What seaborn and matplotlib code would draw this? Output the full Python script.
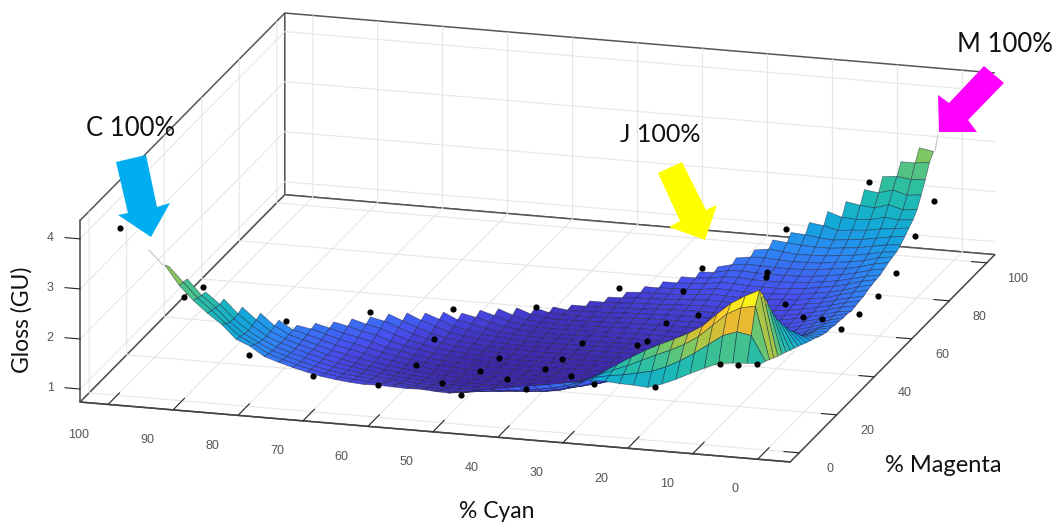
import numpy as np
import matplotlib
matplotlib.use("Agg")
import matplotlib.pyplot as plt
from matplotlib.colors import Normalize
from matplotlib.patches import Polygon
from mpl_toolkits.mplot3d.art3d import Poly3DCollection
import seaborn as sns

# grid of the fitted surface, in % ink
cyan_levels = 2.32 + 2.186 * np.arange(43)
magenta_levels = 5.16 + 2.186 * np.arange(43)

# fitted gloss x100, one list per cyan level, running up in magenta
gloss_columns = [
    [225,221,216,211,206,202,198,193,189,185,180,175,171,167,162,158,155,155,152,152,150,150,147,149,151,152,156,158,160,161,165,169,172,174,180,188,197,205,217,238,260,286,300],
    [223,270,320,344,324,301,277,255,239,223,208,196,184,171,163,157,152,149,146,144,143,143,143,144,145,146,149,151,154,156,160,164,168,171,177,185,193,202,214,235,258,283,305],
    [221,275,315,330,300,270,240,215,195,180,168,158,150,145,141,139,137,136,135,135,135,135,135,136,137,139,141,143,146,149,152,156,160,165,172,180,190,205,222,243,262,283],
    [218,265,300,313,280,250,222,198,178,163,152,144,138,134,131,129,128,127,127,127,127,127,128,129,130,131,133,136,139,142,146,150,155,160,167,175,185,198,213,235,259],
    [206,245,275,289,255,228,203,182,165,152,142,135,130,126,124,122,121,120,120,120,120,121,122,123,125,127,129,132,135,138,142,147,152,157,164,172,183,196,216,239],
    [193,225,250,263,235,210,188,170,155,143,134,128,124,120,118,116,115,114,114,114,115,116,117,118,120,122,124,127,130,134,138,143,148,154,161,169,180,198,221],
    [179,208,232,246,220,197,177,160,146,135,127,122,118,115,113,111,110,110,110,110,111,112,113,115,117,119,122,125,128,132,136,141,147,153,161,171,187,207],
    [167,193,218,232,207,185,166,150,137,127,120,115,112,110,108,107,106,106,106,107,108,109,111,113,115,117,120,123,126,130,135,140,146,152,162,175,191],
    [158,182,206,219,194,173,155,140,129,120,114,110,107,105,104,103,103,103,104,105,106,108,110,112,114,116,119,122,126,130,135,140,147,155,165,177],
    [160,176,193,205,180,160,143,130,120,113,108,105,103,102,101,101,101,102,103,104,105,107,109,111,113,116,119,122,126,130,135,141,149,158,168],
    [161,170,180,189,165,147,132,121,113,107,103,101,100,99,99,99,100,101,102,103,105,107,109,111,114,117,120,124,128,132,137,142,148,154],
    [163,166,169,172,150,135,122,113,107,102,100,98,97,97,97,98,99,100,101,103,105,107,109,112,115,118,121,124,128,131,135,139,144],
    [163,160,157,154,135,123,113,106,101,98,96,95,95,95,96,97,98,100,101,103,105,107,109,111,113,116,118,120,123,126,129,132],
    [157,150,144,139,122,112,105,100,97,95,94,94,94,95,96,97,98,100,101,103,105,107,108,110,112,114,116,118,121,124,128],
    [152,139,128,120,112,105,100,96,94,93,93,93,94,95,96,97,98,100,101,103,104,106,107,109,110,112,114,117,120,124],
    [147,132,120,111,105,100,96,94,92,92,92,93,94,95,96,97,98,99,101,102,103,105,106,107,109,111,113,116,120],
    [142,127,115,106,100,96,93,92,91,91,92,93,94,95,96,97,98,99,100,101,102,103,105,106,108,110,113,116],
    [138,123,112,104,98,94,92,91,90,91,91,92,93,94,95,96,97,98,99,100,101,102,103,105,106,108,111],
    [133,120,110,102,97,93,91,90,90,90,91,92,93,94,95,95,96,97,98,99,100,101,102,103,105,107],
    [128,117,107,100,95,92,90,90,90,90,91,92,93,93,94,95,96,96,97,98,99,100,101,103,105],
    [123,113,105,99,95,92,90,90,90,90,91,92,92,93,94,95,95,96,97,98,99,100,101,103],
    [117,109,102,97,94,91,90,90,90,91,91,92,93,94,94,95,96,97,98,99,100,102,105],
    [113,106,100,96,93,91,90,90,91,91,92,93,94,95,96,97,98,99,100,102,105,109],
    [114,107,101,97,94,92,91,91,92,92,93,94,95,96,97,99,100,102,105,109,115],
    [116,109,103,99,96,94,93,93,93,94,95,96,97,99,100,102,105,109,114,119],
    [115,109,104,100,97,95,94,94,95,96,97,98,100,102,104,107,111,116,122],
    [116,111,106,102,99,97,97,97,98,99,100,102,104,106,109,112,117,122],
    [117,112,108,104,102,100,100,100,101,103,105,107,110,113,118,124,130],
    [116,113,110,107,105,104,104,105,106,108,110,113,117,122,128,134],
    [118,115,113,111,109,108,108,109,111,113,117,122,127,133,140],
    [121,118,116,114,113,112,113,115,118,122,127,132,138,144],
    [125,122,120,119,118,118,119,121,124,128,132,138,144],
    [131,128,126,125,124,124,125,127,130,134,140,146],
    [138,135,133,132,132,132,133,135,138,142,146],
    [146,143,141,140,140,140,141,143,146,149],
    [155,152,150,149,149,149,149,150,151],
    [173,168,164,161,160,161,164,167],
    [185,182,179,177,178,182,187],
    [212,205,200,198,200,205],
    [232,229,226,225,227],
    [255,252,249,247],
    [283,281,279],
    [321,310],
]

# extra colour on the yellow ridge near J, rows are the first magenta levels
ridge_colour = [
    [0,0,0,.05,.1,.15,.2,.25,.3,.35,.35,.3,.2,0],
    [0,.25,.35,.4,.45,.45,.45,.5,.5,.5,.5,.4,.3,.1],
    [0,.8,.9,.9,.9,.85,.8,.75,.7,.65,.65,.55,.4,.2],
    [0,.85,.9,.95,.95,.95,.85,.7,.65,.65,.7,.75,.6,.3],
    [0,.7,.6,.5,.4,.3,.2,.1,0,0,0,0,0,0],
]

# measured samples
cyan_pts = [99.7,89.9,90.1,79.9,80.5,70,69.1,60,59.5,46.7,37.1,59.3,58.9,47.7,49,52.4,47.2,42.3,37.2,39,38,38.1,32.4,26.7,27.4,26.5,26.7,17.4,28.1,27.2,21.7,19,17.6,10,5.6,4.3,-3.4,-3,-2.8,-2.4,-2.2,-1.9,12.8,19.3,7.4,4.6,1.7]
magenta_pts = [.5,.5,11.4,.5,22.3,.5,27.8,.5,38.7,38.7,49.7,27.8,16.9,22.3,16.9,8.1,.5,8.1,.5,16.9,22.3,33.3,8.1,.5,25.6,27.8,38.7,.5,62.8,49.7,38.7,66,60.6,44.2,38.7,44.2,27.8,38.7,49.7,60.6,71.5,82.4,98.8,77,.5,.5,.5]
gloss_pts = [4.06,2.79,2.58,1.74,1.6,1.43,1.69,1.36,1.44,1.62,1.69,1.25,1.15,1.22,1.14,1.19,1.3,1.38,1.53,1.29,1.29,1.2,1.55,1.74,1.56,1.57,1.52,1.79,1.69,1.74,1.73,1.58,1.71,1.88,1.87,1.64,2.14,2.02,1.96,2,2.33,2.61,2.21,2.03,2.36,2.37,2.42]

cyan_ticks = list(range(0, 101, 10))
magenta_ticks = list(range(0, 101, 20))
gloss_ticks = [1, 2, 3, 4]

parula = ["#3e26a8", "#4750f0", "#2d87f5", "#12a8dc", "#1ab8b8", "#33c09a",
          "#73c76a", "#b8c640", "#ecba30", "#fdcf2c", "#f9f815"]
surface_cmap = sns.blend_palette(parula, n_colors=256, as_cmap=True)

sns.set_theme(style="white")
plt.rcParams["font.family"] = ["Liberation Sans", "DejaVu Sans"]
plt.rcParams["grid.color"] = "#e6e6e6"
plt.rcParams["grid.linewidth"] = 0.8

W, H = 1058, 522
fig = plt.figure(figsize=(W / 100, H / 100), dpi=100, facecolor="white")
side = 1058
ax = fig.add_axes([-5.8 / W, -258.8 / H, side / W, side / H], projection="3d",
                  proj_type="ortho", computed_zorder=False)
ax.patch.set_alpha(0)
ax.view_init(elev=17, azim=-73.9)
ax.set_box_aspect((739, 738, 190), zoom=0.974)

# put the table on the grid
gloss = np.full((len(magenta_levels), len(cyan_levels)), np.nan)
for i, col in enumerate(gloss_columns):
    gloss[:len(col), i] = np.array(col) / 100
colour_val = gloss.copy()
colour_val[:len(ridge_colour), :len(ridge_colour[0])] += np.array(ridge_colour)

quads = []
face_vals = []
for j in range(len(magenta_levels) - 1):
    for i in range(len(cyan_levels) - 1):
        z = [gloss[j, i], gloss[j, i + 1], gloss[j + 1, i + 1], gloss[j + 1, i]]
        if np.isnan(z).any():
            continue
        quads.append([(cyan_levels[i], magenta_levels[j], z[0]),
                      (cyan_levels[i + 1], magenta_levels[j], z[1]),
                      (cyan_levels[i + 1], magenta_levels[j + 1], z[2]),
                      (cyan_levels[i], magenta_levels[j + 1], z[3])])
        face_vals.append(np.mean([colour_val[j, i], colour_val[j, i + 1],
                                  colour_val[j + 1, i + 1], colour_val[j + 1, i]]))

surf = Poly3DCollection(quads, cmap=surface_cmap, norm=Normalize(0.9, 4.2),
                        edgecolor=(0.1, 0.1, 0.2, 0.55), linewidth=0.5, zorder=2)
surf.set_array(np.array(face_vals))
ax.add_collection3d(surf)
ax.scatter(cyan_pts, magenta_pts, gloss_pts, c="black", s=20, depthshade=False,
           linewidths=0, zorder=5)

ax.set_xlim(104.3, -5, view_margin=0)
ax.set_ylim(-4.8, 104.3, view_margin=0)
ax.set_zlim(0.74, 4.37, view_margin=0)
ax.set_xticks(cyan_ticks)
ax.set_yticks(magenta_ticks)
ax.set_zticks(gloss_ticks)
ax.zaxis.set_ticks_position("lower")
# z ticks run along the cyan direction in the reference
ax.zaxis._get_tickdir = lambda position: 0

for axis, out in [(ax.xaxis, 0.7), (ax.yaxis, 0.27), (ax.zaxis, 0.27)]:
    axis.set_pane_color((1, 1, 1, 1))
    axis.pane.set_edgecolor("#555555")
    axis.pane.set_linewidth(1.1)
    axis.line.set_color("#444444")
    axis.line.set_linewidth(1.1)
    axis._axinfo["tick"]["outward_factor"] = out
    axis._axinfo["tick"]["inward_factor"] = 0
    axis._axinfo["tick"]["linewidth"] = {True: 0.8, False: 0.5}
    axis._axinfo["tick"]["color"] = "#444444"
ax.tick_params(axis="x", labelsize=9, labelcolor="#555555", pad=29)
ax.tick_params(axis="y", labelsize=9, labelcolor="#555555", pad=9)
ax.tick_params(axis="z", labelsize=9, labelcolor="#555555", pad=5)
plt.setp(ax.get_xticklabels(), ha="right", va="bottom")
plt.setp(ax.get_zticklabels(), va="bottom")

# the slide annotations on top, in image pixels
over = fig.add_axes([0, 0, 1, 1])
over.set_xlim(0, W)
over.set_ylim(H, 0)
over.axis("off")
over.patch.set_alpha(0)

arrows = {
    "#00aeef": [(116, 162), (146, 155), (157, 207), (170, 203), (151, 237), (118, 215), (128, 213)],
    "#ffff00": [(658, 173), (682, 162), (706, 210), (717, 205), (705, 240), (669, 227), (680, 221)],
    "#ff00ff": [(984, 66), (1004, 83), (968, 120), (977, 132), (939, 132), (938, 95), (949, 103)],
}
for colour, pts in arrows.items():
    over.add_patch(Polygon(pts, closed=True, facecolor=colour, edgecolor="none"))
over.plot([149, 163], [250, 265], color="#c4c4c4", lw=0.8)
over.plot([938, 935], [135, 151], color="#c4c4c4", lw=0.8)

labels = [("C 100%", 131, 129, 0, 18.5), ("J 100%", 660, 135, 0, 18), ("M 100%", 1005, 45, 0, 18.5),
          ("% Cyan", 497, 511, 0, 16.5), ("% Magenta", 943, 465, 0, 17), ("Gloss (GU)", 22, 320, 90, 16.5)]
for txt, x, y, rot, size in labels:
    over.text(x, y, txt, fontsize=size, family=["Lato", "DejaVu Sans"], color="#111111",
              ha="center", va="center", rotation=rot)

fig.savefig("out.png", dpi=100, facecolor="white")
